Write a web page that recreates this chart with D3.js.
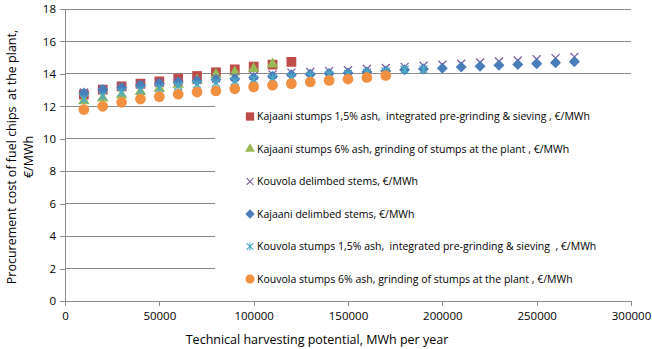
<!DOCTYPE html>
<html>
<head>
<meta charset="utf-8">
<script src="https://cdn.jsdelivr.net/npm/d3@7"></script>
<style>
  body { margin: 0; background: #fff; }
  text { font-family: "Open Sans", sans-serif; fill: #000; }
</style>
</head>
<body>
<div id="chart-area"></div>
<script>
// harvesting potential, MWh per year
var xValues = [10000, 20000, 30000, 40000, 50000, 60000, 70000, 80000, 90000, 100000,
  110000, 120000, 130000, 140000, 150000, 160000, 170000, 180000, 190000, 200000,
  210000, 220000, 230000, 240000, 250000, 260000, 270000];

var kajaaniStumps15 = [12.72, 13.03, 13.23, 13.4, 13.54, 13.71, 13.87, 14.1, 14.28, 14.45, 14.57, 14.74];
var kajaaniStumps6 = [12.33, 12.5, 12.7, 12.9, 13.1, 13.35, 13.6, 13.95, 14.1, 14.3, 14.6];
var kouvolaDelimbed = [12.85, 13.07, 13.2, 13.35, 13.45, 13.55, 13.63, 13.72, 13.8, 13.88,
  13.96, 14.08, 14.12, 14.17, 14.22, 14.3, 14.36, 14.43, 14.5, 14.56,
  14.63, 14.7, 14.76, 14.83, 14.9, 14.97, 15.05];
var kajaaniDelimbed = [12.82, 13.03, 13.15, 13.3, 13.4, 13.48, 13.56, 13.65, 13.7, 13.77,
  13.85, 13.95, 13.98, 14.02, 14.06, 14.12, 14.18, 14.25, 14.3, 14.35,
  14.42, 14.47, 14.53, 14.58, 14.63, 14.68, 14.75];
var kouvolaStumps15 = [12.45, 12.65, 12.85, 13.0, 13.12, 13.25, 13.35, 13.45, 13.55, 13.65,
  13.72, 13.8, 13.88, 13.95, 14.0, 14.08, 14.15, 14.25, 14.28];
var kouvolaStumps6 = [11.8, 12.0, 12.25, 12.45, 12.6, 12.75, 12.88, 12.95, 13.08, 13.2,
  13.3, 13.4, 13.5, 13.6, 13.68, 13.78, 13.9];

var seriesNames = [
  "Kajaani stumps 1,5% ash,  integrated pre-grinding & sieving , €/MWh",
  "Kajaani stumps 6% ash, grinding of stumps at the plant , €/MWh",
  "Kouvola delimbed stems, €/MWh",
  "Kajaani delimbed stems, €/MWh",
  "Kouvola stumps 1,5% ash,  integrated pre-grinding & sieving  , €/MWh",
  "Kouvola stumps 6% ash, grinding of stumps at the plant , €/MWh"
];
var xTicks = [0, 50000, 100000, 150000, 200000, 250000, 300000];
var yTicks = [0, 2, 4, 6, 8, 10, 12, 14, 16, 18];

var series = [
  {name: seriesNames[0], values: kajaaniStumps15, shape: "square", color: "#BE4B48"},
  {name: seriesNames[1], values: kajaaniStumps6, shape: "triangle", color: "#98B954"},
  {name: seriesNames[2], values: kouvolaDelimbed, shape: "x", color: "#7D60A0"},
  {name: seriesNames[3], values: kajaaniDelimbed, shape: "diamond", color: "#4A7EBB"},
  {name: seriesNames[4], values: kouvolaStumps15, shape: "star", color: "#4BACC6"},
  {name: seriesNames[5], values: kouvolaStumps6, shape: "circle", color: "#F09040"}
];

var width = 652, height = 349;

var svg = d3.select("#chart-area")
  .append("svg")
    .attr("width", width)
    .attr("height", height);

var x = d3.scaleLinear().domain([0, 300000]).range([65, 631]);
var y = d3.scaleLinear().domain([0, 18]).range([301, 9]);

// gridlines
svg.append("g")
  .selectAll("line")
  .data(yTicks.filter(function(d) { return d > 0; }))
  .enter().append("line")
    .attr("x1", x(0)).attr("x2", x(300000))
    .attr("y1", function(d) { return y(d); })
    .attr("y2", function(d) { return y(d); })
    .attr("stroke", "#8c8c8c")
    .attr("stroke-width", 1)
    .attr("shape-rendering", "crispEdges");

// axes
var xAxis = svg.append("g")
  .attr("transform", "translate(0," + y(0) + ")")
  .call(d3.axisBottom(x).tickValues(xTicks).tickSize(5).tickSizeOuter(0).tickPadding(6).tickFormat(d3.format("d")));
var yAxis = svg.append("g")
  .attr("transform", "translate(" + x(0) + ",0)")
  .call(d3.axisLeft(y).tickValues(yTicks).tickSize(5).tickSizeOuter(0).tickPadding(4));

[xAxis, yAxis].forEach(function(a) {
  a.selectAll("path, line").attr("stroke", "#8c8c8c").attr("shape-rendering", "crispEdges");
  a.selectAll("text").style("font-size", "11.5px").attr("fill", "#000");
});

function symbolPath(shape) {
  if (shape == "square") return d3.symbol(d3.symbolSquare, 95)();
  if (shape == "triangle") return d3.symbol(d3.symbolTriangle, 58)();
  if (shape == "diamond") return "M0,-5.5L5.5,0L0,5.5L-5.5,0Z";
  if (shape == "circle") return d3.symbol(d3.symbolCircle, 90)();
  if (shape == "x") return "M-4,-4L4,4M-4,4L4,-4";
  return "M-4,-4L4,4M-4,4L4,-4M0,-4.5L0,4.5";
}

function drawMarker(g, s) {
  var p = g.append("path").attr("d", symbolPath(s.shape));
  if (s.shape == "x" || s.shape == "star") {
    p.attr("fill", "none").attr("stroke", s.color).attr("stroke-width", 1.3);
  } else {
    p.attr("fill", s.color);
  }
  return p;
}

// points
series.forEach(function(s) {
  var g = svg.append("g");
  s.values.forEach(function(v, i) {
    var m = g.append("g").attr("transform", "translate(" + x(xValues[i]) + "," + y(v) + ")");
    drawMarker(m, s);
  });
});

// legend
var legend = svg.append("g");
legend.append("rect")
  .attr("x", 215).attr("y", 99)
  .attr("width", 631 - 215).attr("height", 192)
  .attr("fill", "#fff");

series.forEach(function(s, i) {
  var ly = 116.5 + i * 32.5;
  var item = legend.append("g").attr("transform", "translate(250," + ly + ")");
  drawMarker(item, s).attr("transform", "scale(0.85)");
  item.append("text")
    .attr("x", 7)
    .attr("dy", "0.35em")
    .style("font-size", "10.5px")
    .style("white-space", "pre")
    .text(s.name);
});

// axis titles
svg.append("text")
  .attr("transform", "translate(16,157) rotate(-90)")
  .attr("text-anchor", "middle")
  .style("font-size", "12.5px")
  .style("white-space", "pre")
  .text("Procurement cost of fuel chips  at the plant,");
svg.append("text")
  .attr("transform", "translate(33,157) rotate(-90)")
  .attr("text-anchor", "middle")
  .style("font-size", "12.5px")
  .text("€/MWh");

svg.append("text")
  .attr("x", 317)
  .attr("y", 344)
  .attr("text-anchor", "middle")
  .style("font-size", "12.5px")
  .text("Technical harvesting potential, MWh per year");
</script>
</body>
</html>
